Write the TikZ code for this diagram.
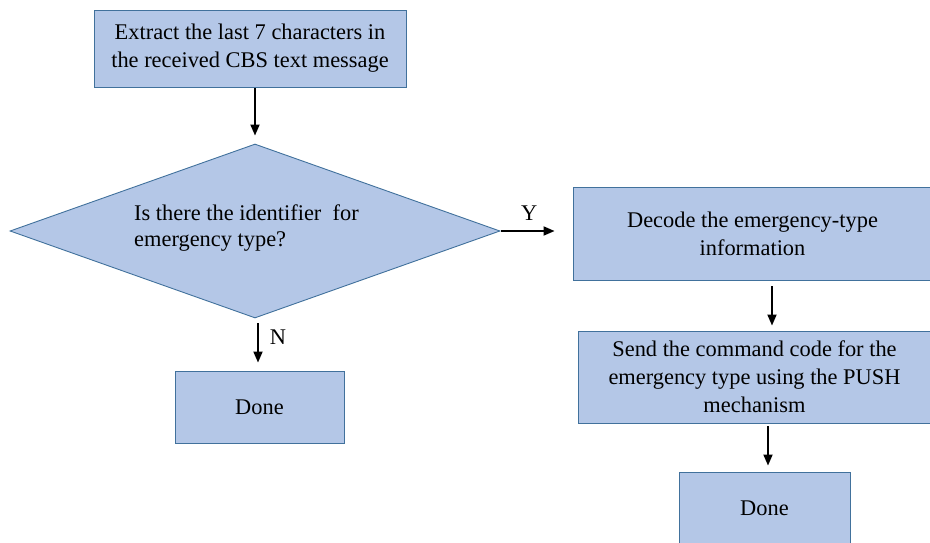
\documentclass[tikz,border=0pt]{standalone}
\usepackage{fontspec}
\setmainfont{Liberation Serif}
\usetikzlibrary{shapes.geometric,arrows.meta}

\definecolor{boxfill}{HTML}{B4C7E7}
\definecolor{boxline}{HTML}{41719C}

\begin{document}
\begin{tikzpicture}[x=1pt,y=-1pt,
  txt/.style={font=\fontsize{22.4}{28}\selectfont},
  box/.style={txt, draw=boxline, fill=boxfill, line width=0.9pt,
    align=center, inner sep=0pt},
  decision/.style={diamond, draw=boxline, fill=boxfill, line width=0.9pt,
    inner sep=0pt},
  flow/.style={-{Triangle[length=11pt,width=9pt]}, line width=1.8pt},
  tag/.style={txt, inner sep=0pt}]
\useasboundingbox (0,0) rectangle (930,543);
\clip (0,0) rectangle (930,543);

% process boxes
\node[box, minimum width=312pt, minimum height=77pt] (extract) at (250,48.5)
  {Extract the last 7 characters in\\the received CBS text message};
\node[decision, minimum width=490pt, minimum height=174pt] (check) at (255,231) {};
\node[font=\fontsize{22.4}{26}\selectfont, anchor=west, align=left, inner sep=0pt]
  (checktext) at (134,228)
  {Is there the identifier\ \ for\\emergency type?};
\node[box, minimum width=359pt, minimum height=93pt] (decode) at (752.5,233.5)
  {Decode the emergency-type\\information};
\node[box, minimum width=353pt, minimum height=92pt] (push) at (754.5,377)
  {Send the command code for the\\emergency type using the PUSH\\mechanism};
\node[box, minimum width=169pt, minimum height=72pt] (doneN) at (259.5,407) {Done};
\node[box, minimum width=171pt, minimum height=72pt] (doneY) at (764.5,508) {Done};

% connectors
\draw[flow, shorten <=1pt, shorten >=8pt]
  (extract.south -| check.north) -- (check.north);
\draw[flow, shorten <=1pt, shorten >=18pt]
  (check.east) -- (check.east -| decode.west)
  node[tag, pos=0.4, above=10pt] (ylabel) {Y};
\draw[flow, shorten <=5pt, shorten >=8pt]
  ([xshift=3pt]check.south) -- ([xshift=3pt]check.south |- doneN.north)
  node[tag, pos=0.35, right=11pt] (nlabel) {N};
\draw[flow, shorten <=6pt, shorten >=5pt]
  ([xshift=19.5pt]decode.south) -- ([xshift=19.5pt]decode.south |- push.north);
\draw[flow, shorten <=3pt, shorten >=6pt]
  (push.south -| doneY.north) ++(3.5,0) coordinate (pushout)
  (pushout) -- (pushout |- doneY.north);
\end{tikzpicture}
\end{document}
